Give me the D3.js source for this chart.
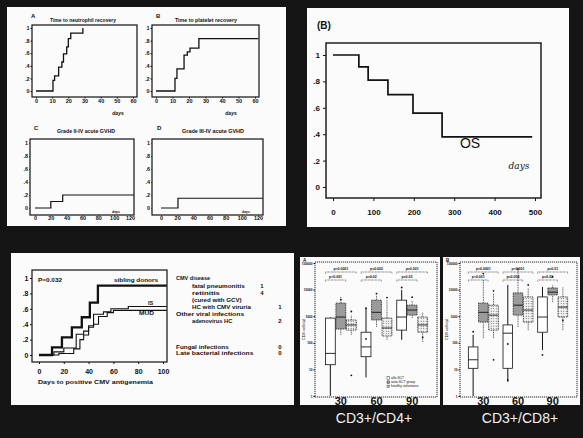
<!DOCTYPE html>
<html>
<head>
<meta charset="utf-8">
<script src="https://cdn.jsdelivr.net/npm/d3@7"></script>
<style>
body { margin: 0; background: #141414; }
svg { display: block; font-family: "Liberation Sans", Arial, sans-serif; }
</style>
</head>
<body>
<div id="fig"></div>
<script>
// ---- data ----
var probTicks = [0, 0.2, 0.4, 0.6, 0.8, 1];

// A: time to neutrophil recovery
var neutroDays = [0, 10.5, 11.5, 14, 16, 17, 19, 20, 21.5, 29];
var neutroProb = [0, 0.17, 0.24, 0.38, 0.46, 0.59, 0.7, 0.83, 0.92, 1.0];
// B: time to platelet recovery
var plateletDays = [0, 11.5, 12.7, 17, 19, 20.6, 26, 62];
var plateletProb = [0, 0.2, 0.35, 0.57, 0.62, 0.68, 0.83, 0.83];
// C: grade II-IV acute GVHD
var gvhd2Days = [0, 20, 35, 125];
var gvhd2Prob = [0, 0.1, 0.2, 0.2];
// D: grade III-IV acute GVHD
var gvhd3Days = [0, 21, 126];
var gvhd3Prob = [0, 0.15, 0.15];
var recoveryTicks = [0, 10, 20, 30, 40, 50, 60];
var gvhdTicks = [0, 20, 40, 60, 80, 100, 120];

// (B) overall survival
var osDays = [0, 64, 87, 136, 198, 270, 493];
var osProb = [1, 0.91, 0.81, 0.7, 0.56, 0.38, 0.38];
var osTicks = [0, 100, 200, 300, 400, 500];

// CMV antigenemia
var sibDays = [0, 10.5, 18.5, 26.5, 34.5, 41, 47.5, 103];
var sibProb = [0, 0.1, 0.23, 0.36, 0.49, 0.68, 0.9, 0.9];
var isDays = [0, 12, 20, 30, 36, 40, 44, 52, 58, 72, 103];
var isProb = [0, 0.04, 0.09, 0.27, 0.31, 0.38, 0.53, 0.56, 0.6, 0.63, 0.63];
var mudDays = [0, 16, 28, 33, 36, 40, 44, 48, 55, 60, 103];
var mudProb = [0, 0.02, 0.08, 0.2, 0.26, 0.36, 0.4, 0.5, 0.55, 0.58, 0.58];
var cmvTicks = [0, 20, 40, 60, 80, 100];

var infectLabels = ["CMV disease", "fatal pneumonitis", "retinitis", "(cured with GCV)", "HC with CMV viruria",
  "Other viral infections", "adenovirus HC", "Fungal infections", "Late bacterial infections"];
var infectCounts = [null, 1, 4, null, 1, null, 2, 0, 0];
var infectIndent = [0, 1, 1, 1, 1, 0, 1, 0, 0];

// immune reconstitution, five-number summaries [lo, q1, median, q3, hi] per day group and cohort
var dayGroups = ["30", "60", "90"];
var cohorts = ["allo-SCT", "auto-SCT group", "healthy volunteers"];
var cellTicks = [1, 10, 100, 1000, 10000, 100000];
var cd4Stats = [
  [[1, 15, 40, 850, 900], [200, 330, 930, 3100, 5300], [200, 300, 470, 720, 1100]],
  [[5, 30, 70, 250, 2000], [400, 720, 1400, 4000, 5800], [130, 180, 360, 850, 4000]],
  [[130, 300, 930, 4000, 9600], [850, 1100, 1700, 2600, 4000], [107, 250, 470, 930, 1400]]
];
var cd8Stats = [
  [[1, 11, 23, 70, 200], [150, 600, 1400, 3100, 23000], [150, 300, 1100, 2600, 7500]],
  [[3.4, 11, 230, 470, 15000], [390, 1100, 2600, 7500, 55000], [300, 600, 1700, 5300, 11500]],
  [[54, 250, 930, 5300, 12500], [3400, 6300, 8000, 11500, 15000], [300, 930, 2200, 5300, 12500]]
];
// single outlying patients [group, cohort, value]
var cd4Points = [[0, 1, 4200], [0, 2, 6], [0, 2, 1500], [1, 0, 2000], [1, 1, 7000], [1, 2, 5000], [1, 0, 140], [2, 0, 12000], [2, 2, 160], [2, 1, 5200]];
var cd8Points = [[0, 1, 40000], [0, 2, 23], [0, 2, 9000], [0, 0, 260], [1, 0, 4, ], [1, 1, 60000], [1, 0, 90], [1, 2, 15000], [2, 0, 35], [2, 1, 30000], [2, 2, 700]];
var cd4SigTop = ["p<0.0001", "p=0.002", "p=0.001"];
var cd4SigLow = ["p<0.001", "p=0.02", "p=0.03"];
var cd8SigTop = ["p<0.0001", "p<0.001", "p=0.01"];
var cd8SigLow = ["p<0.001", "p=0.004", "p=0.02"];

// ---- drawing ----
var ink = "#111";
var svg = d3.select("#fig").append("svg").attr("width", 583).attr("height", 438);
svg.append("rect").attr("width", 583).attr("height", 438).attr("fill", "#141414");

// white photo panels
[[7, 7, 279, 219], [307, 8, 262, 219], [11, 253, 283, 152], [300, 257, 140, 148], [443, 257, 137, 148]]
  .forEach(function(p) {
    svg.append("rect").attr("x", p[0]).attr("y", p[1]).attr("width", p[2]).attr("height", p[3]).attr("fill", "#fbfbfb");
  });

var defs = svg.append("defs");
var pat2 = defs.append("pattern").attr("id", "dense").attr("width", 2).attr("height", 2).attr("patternUnits", "userSpaceOnUse");
pat2.append("rect").attr("width", 2).attr("height", 2).attr("fill", "#ddd");
pat2.append("circle").attr("cx", 1).attr("cy", 1).attr("r", 0.65).attr("fill", "#222");
var pat3 = defs.append("pattern").attr("id", "light").attr("width", 2.5).attr("height", 2.5).attr("patternUnits", "userSpaceOnUse");
pat3.append("rect").attr("width", 2.5).attr("height", 2.5).attr("fill", "#f4f4f4");
pat3.append("circle").attr("cx", 1.2).attr("cy", 1.2).attr("r", 0.55).attr("fill", "#555");

function probFmt(d) {
  if (d === 0) return "0";
  if (d === 1) return "1";
  return d3.format(".1f")(d).replace("0.", ".");
}

function styleAxis(sel, size) {
  sel.attr("font-size", size).attr("font-family", "Liberation Sans, Arial, sans-serif").attr("font-weight", "bold");
  sel.select(".domain").remove();
  sel.selectAll("text").attr("fill", ink);
  sel.selectAll("line").attr("stroke", ink);
}

//step-function (Kaplan-Meier style) plot
function kmPlot(cfg) {
  var x = d3.scaleLinear().domain([cfg.xTicks[0], cfg.xTicks[cfg.xTicks.length - 1]]).range(cfg.xPx);
  var y = d3.scaleLinear().domain([0, 1]).range(cfg.yPx);
  var g = svg.append("g");
  var b = cfg.box;
  g.append("rect")
    .attr("x", b[0]).attr("y", b[1]).attr("width", b[2] - b[0]).attr("height", b[3] - b[1])
    .attr("fill", "none").attr("stroke", ink).attr("stroke-width", cfg.frame || 1.2);

  g.append("g").attr("transform", "translate(" + b[0] + ",0)")
    .call(d3.axisLeft(y).tickValues(probTicks).tickFormat(probFmt).tickSize(cfg.tick).tickPadding(cfg.padY))
    .call(styleAxis, cfg.font);
  g.append("g").attr("transform", "translate(0," + b[3] + ")")
    .call(d3.axisBottom(x).tickValues(cfg.xTicks).tickSize(cfg.tick).tickPadding(cfg.padX))
    .call(styleAxis, cfg.font);

  var line = d3.line()
    .x(function(d) { return x(d[0]); })
    .y(function(d) { return y(d[1]); })
    .curve(d3.curveStepAfter);
  cfg.series.forEach(function(s) {
    g.append("path")
      .datum(d3.zip(s.days, s.prob))
      .attr("d", line)
      .attr("fill", "none")
      .attr("stroke", ink)
      .attr("stroke-width", s.w);
  });
  return {x: x, y: y, g: g};
}

function label(x, y, txt, size, opt) {
  opt = opt || {};
  var t = svg.append("text").attr("x", x).attr("y", y).text(txt)
    .attr("font-size", size).attr("fill", opt.fill || ink)
    .attr("font-weight", opt.weight || "bold")
    .attr("text-anchor", opt.anchor || "start")
    .attr("dominant-baseline", "central");
  if (opt.len) t.attr("textLength", opt.len).attr("lengthAdjust", "spacingAndGlyphs");
  if (opt.italic) t.attr("font-style", "italic");
  if (opt.family) t.attr("font-family", opt.family);
  return t;
}

// top-left: four small panels
kmPlot({box: [32, 25, 137, 97], xTicks: recoveryTicks, xPx: [36, 133], yPx: [91, 28], font: 5.5, tick: 1.5, padX: 1, padY: 1,
  series: [{days: neutroDays, prob: neutroProb, w: 1.3}]});
kmPlot({box: [152, 25, 259, 97], xTicks: recoveryTicks, xPx: [156, 255], yPx: [91, 28], font: 5.5, tick: 1.5, padX: 1, padY: 1,
  series: [{days: plateletDays, prob: plateletProb, w: 1.3}]});
kmPlot({box: [30, 139, 134, 215], xTicks: gvhdTicks, xPx: [35, 130], yPx: [208, 143], font: 5.5, tick: 0.5, padX: 0.5, padY: 1.5,
  series: [{days: gvhd2Days, prob: gvhd2Prob, w: 1.2}]});
kmPlot({box: [152, 139, 263, 215], xTicks: gvhdTicks, xPx: [161, 258], yPx: [208, 143], font: 5.5, tick: 0.5, padX: 0.5, padY: 1.5,
  series: [{days: gvhd3Days, prob: gvhd3Prob, w: 1.2}]});

label(31, 16, "A", 6);
label(156, 16, "B", 6);
label(34, 128, "C", 6);
label(157, 128, "D", 6);
label(83, 20, "Time to neutrophil recovery", 5, {anchor: "middle", len: 66});
label(206, 20, "Time to platelet recovery", 5, {anchor: "middle", len: 62});
label(86, 131, "Grade II-IV acute GVHD", 5, {anchor: "middle", len: 58});
label(213, 131, "Grade III-IV acute GVHD", 5, {anchor: "middle", len: 62});
label(118, 113, "days", 5, {anchor: "middle", italic: true});
label(231, 113, "days", 5, {anchor: "middle", italic: true});
label(116, 212, "days", 3.5, {anchor: "middle"});
label(246, 212, "days", 3.5, {anchor: "middle"});

// top-right: overall survival
kmPlot({box: [326, 43, 541, 198], xTicks: osTicks, xPx: [333, 535], yPx: [187, 55], font: 8, tick: 3, padX: 8, padY: 3, frame: 1.4,
  series: [{days: osDays, prob: osProb, w: 1.7}]});
label(317, 25, "(B)", 10);
label(470, 143, "OS", 14, {anchor: "middle", weight: "normal"});
label(519, 166, "days", 9, {anchor: "middle", italic: true, weight: "normal", family: "DejaVu Serif, serif"});

// bottom-left: CMV antigenemia
kmPlot({box: [32, 270, 167, 362], xTicks: cmvTicks, xPx: [39, 163], yPx: [355, 278], font: 7, tick: 2, padX: 5, padY: 1.5,
  series: [
    {days: sibDays, prob: sibProb, w: 2.3},
    {days: isDays, prob: isProb, w: 1.1},
    {days: mudDays, prob: mudProb, w: 1.1}
  ]});
label(38, 280, "P=0.032", 5.5, {len: 24});
label(158, 280, "sibling donors", 5.5, {anchor: "end", len: 44});
label(148, 303, "IS", 5.5);
label(139, 313, "MUD", 5.5, {len: 15});
label(38, 382, "Days to positive CMV antigenemia", 6, {len: 115});

var rowY = [278, 286, 293, 300, 307, 314, 321, 347, 353];
infectLabels.forEach(function(t, i) {
  label(infectIndent[i] ? 192 : 176, rowY[i], t, 5.5, {len: t.length * 3.1});
  if (infectCounts[i] !== null) {
    label(i < 3 ? 262 : 280, rowY[i], String(infectCounts[i]), 6, {anchor: "middle"});
  }
});

// bottom-right: box plots of T-cell subsets
function boxPlot(cfg) {
  var b = cfg.box;
  var y = d3.scaleLog().domain([1, 100000]).range([b[3] - 1, b[1] + 1]);
  var x = d3.scaleBand().domain(dayGroups).range(cfg.xRange).paddingInner(0.1).paddingOuter(0.05);
  var xs = d3.scaleBand().domain(d3.range(cohorts.length)).range([0, x.bandwidth()]).padding(0.06);
  var fills = ["#fff", "url(#dense)", "url(#light)"];
  var g = svg.append("g");

  g.append("rect")
    .attr("x", b[0]).attr("y", b[1]).attr("width", b[2] - b[0]).attr("height", b[3] - b[1])
    .attr("fill", "none").attr("stroke", ink).attr("stroke-width", 0.9).attr("stroke-dasharray", "1.2,0.8");

  g.append("g").attr("transform", "translate(" + b[0] + ",0)")
    .call(d3.axisLeft(y).tickValues(cellTicks).tickFormat(d3.format("d")).tickSize(1.5).tickPadding(1))
    .call(styleAxis, 3.2);

  g.append("text")
    .attr("transform", "translate(" + cfg.titleX + "," + ((b[1] + b[3]) / 2) + ") rotate(-90)")
    .attr("text-anchor", "middle").attr("font-size", 4).attr("fill", ink).text(cfg.title);

  cfg.stats.forEach(function(grp, gi) {
    grp.forEach(function(s, si) {
      var x0 = x(dayGroups[gi]) + xs(si), w = xs.bandwidth(), cx = x0 + w / 2;
      var dash = si === 0 ? null : "1,0.7";
      g.append("line").attr("x1", cx).attr("x2", cx).attr("y1", y(s[0])).attr("y2", y(s[1]))
        .attr("stroke", ink).attr("stroke-width", si === 0 ? 1 : 0.7).attr("stroke-dasharray", dash);
      g.append("line").attr("x1", cx).attr("x2", cx).attr("y1", y(s[3])).attr("y2", y(s[4]))
        .attr("stroke", ink).attr("stroke-width", si === 0 ? 1 : 0.7).attr("stroke-dasharray", dash);
      g.append("rect").attr("x", x0).attr("y", y(s[3])).attr("width", w).attr("height", y(s[1]) - y(s[3]))
        .attr("fill", fills[si]).attr("stroke", ink).attr("stroke-width", 0.8).attr("stroke-dasharray", dash);
      g.append("line").attr("x1", x0).attr("x2", x0 + w).attr("y1", y(s[2])).attr("y2", y(s[2]))
        .attr("stroke", ink).attr("stroke-width", 0.9);
    });
    // significance brackets
    var gx0 = x(dayGroups[gi]) + xs(0), gx1 = x(dayGroups[gi]) + xs(2) + xs.bandwidth(), gx2 = x(dayGroups[gi]) + xs(1) + xs.bandwidth();
    [[gx1, b[1] + 10, cfg.sigTop[gi]], [gx2, b[1] + 18, cfg.sigLow[gi]]].forEach(function(k) {
      g.append("path").attr("d", "M" + gx0 + "," + (k[1] + 1.5) + "L" + gx0 + "," + k[1] + "L" + k[0] + "," + k[1] + "L" + k[0] + "," + (k[1] + 1.5))
        .attr("fill", "none").attr("stroke", ink).attr("stroke-width", 0.6).attr("stroke-dasharray", "0.8,0.6");
      g.append("text").attr("x", (gx0 + k[0]) / 2).attr("y", k[1] - 2).attr("text-anchor", "middle")
        .attr("font-size", 3.5).attr("font-weight", "bold").attr("fill", ink).text(k[2]);
    });
    g.append("text").attr("x", x(dayGroups[gi]) + x.bandwidth() / 2).attr("y", b[3] + 4)
      .attr("text-anchor", "middle").attr("dominant-baseline", "central")
      .attr("font-size", 11).attr("font-weight", "bold").attr("fill", ink).text(dayGroups[gi]);
  });

  cfg.points.forEach(function(p) {
    g.append("circle")
      .attr("cx", x(dayGroups[p[0]]) + xs(p[1]) + xs.bandwidth() / 2)
      .attr("cy", y(p[2])).attr("r", 0.9).attr("fill", ink);
  });

  if (cfg.legend) {
    cohorts.forEach(function(c, i) {
      var ly = b[3] - 19 + i * 4.2;
      g.append("rect").attr("x", b[2] - 50).attr("y", ly - 1.3).attr("width", 2.6).attr("height", 2.6)
        .attr("fill", fills[i]).attr("stroke", ink).attr("stroke-width", 0.4);
      g.append("text").attr("x", b[2] - 46).attr("y", ly).attr("dominant-baseline", "central")
        .attr("font-size", 3.4).attr("fill", ink).text(c);
    });
  }
}

boxPlot({box: [315, 262, 437, 397], xRange: [323, 430], stats: cd4Stats, points: cd4Points,
  sigTop: cd4SigTop, sigLow: cd4SigLow, title: "CD4 cells/\u00b5l", titleX: 305, legend: true});
boxPlot({box: [460, 262, 577, 397], xRange: [466, 570], stats: cd8Stats, points: cd8Points,
  sigTop: cd8SigTop, sigLow: cd8SigLow, title: "CD8 cells/\u00b5l", titleX: 448, legend: false});
label(303, 260, "A", 4.5);
label(446, 260, "B", 4.5);

label(374, 418, "CD3+/CD4+", 14, {anchor: "middle", weight: "normal", fill: "#f2f2f2"});
label(520, 418, "CD3+/CD8+", 14, {anchor: "middle", weight: "normal", fill: "#f2f2f2"});
</script>
</body>
</html>
